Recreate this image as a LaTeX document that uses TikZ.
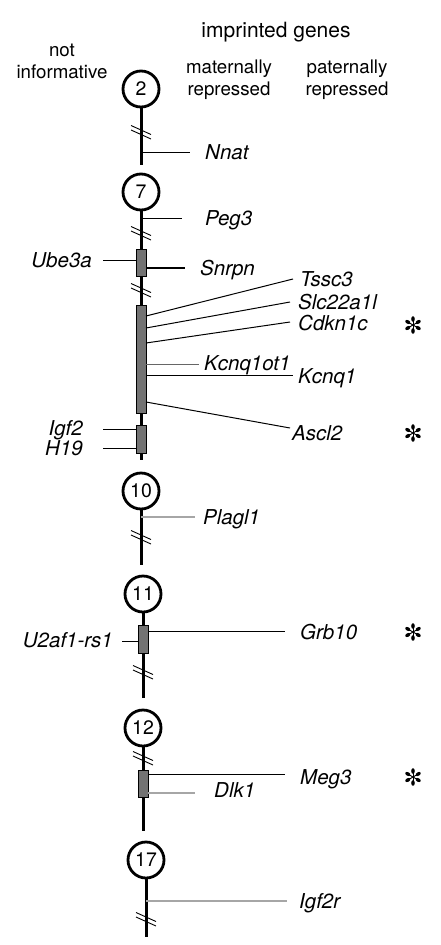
\documentclass[tikz,border=0pt]{standalone}
\usepackage{fontspec}
\setmainfont{TeX Gyre Heros}
\begin{document}
\begin{tikzpicture}[x=1pt,y=-1pt,
  chrom/.style={line width=3pt},
  cen/.style={circle,draw,line width=2.8pt,minimum size=36pt,inner sep=0pt,fill=white,font=\fontsize{19.5}{19.5}\selectfont},
  blk/.style={draw,line width=0.8pt,fill={rgb,255:red,115;green,115;blue,115},minimum width=10pt,inner sep=0pt},
  gl/.style={line width=1pt},
  ggl/.style={line width=1.1pt,color=gray!70},
  gene/.style={font=\fontsize{20.5}{20.5}\selectfont\itshape,inner sep=0pt},
  hdr/.style={font=\fontsize{18.7}{22}\selectfont,align=center,inner sep=0pt},
  brk/.pic={\draw[line width=0.9pt] (-10,-6.5) -- (10,2.5); \draw[line width=0.9pt] (-10,-2) -- (10,7);},
  astk/.pic={\foreach \a in {30,90,150,210,270,330}{\draw[line width=0.9pt] (0,0) -- (\a:6.5); \fill[rotate=\a] (6,0) ellipse (2.8pt and 1.8pt);}}
]
\useasboundingbox (0,0) rectangle (440,945);

% headers
\node[hdr,font=\fontsize{21}{21}\selectfont] (hi) at (276,32) {imprinted genes};
\node[hdr] (hn) at (62,61) {not\\informative};
\node[hdr] (hm) at (229,80) {maternally\\repressed};
\node[hdr] (hp) at (347,80) {paternally\\repressed};

% ---------- chromosome 2
\node[cen] (c2) at (141,89) {2};
\coordinate (e2) at (141,165);
\draw[chrom] (c2.south) -- (e2);
\pic at (141,132) {brk};
\coordinate (nnA) at (141,152); \coordinate (nnB) at (190,152);
\draw[gl] (nnA) -- (nnB);
\node[gene,anchor=base west] (nnat) at (205,159.5) {Nnat};

% ---------- chromosome 7
\node[cen] (c7) at (141,192) {7};
\coordinate (e7) at (141,460);
\draw[chrom] (c7.south) -- (e7);
\pic at (141,233) {brk};
\pic at (141,290) {brk};
\node[blk,minimum height=27pt] (b1) at (141,262.5) {};
\node[blk,minimum height=108pt] (b2) at (141,359) {};
\node[blk,minimum height=28pt] (b3) at (141,439) {};

\coordinate (pgA) at (141,218); \coordinate (pgB) at (182,218);
\draw[gl] (pgA) -- (pgB);
\node[gene,anchor=base west] (peg3) at (205,225.5) {Peg3};

\coordinate (ubB) at (103,260);
\draw[gl] (b1.west |- ubB) -- (ubB);
\node[gene,anchor=base east] (ube3a) at (92,267.5) {Ube3a};

\coordinate (snB) at (185,268);
\draw[gl,line width=1.6pt] (b1.east |- snB) -- (snB);
\node[gene,anchor=base west] (snrpn) at (200,275.5) {Snrpn};

\coordinate (tsA) at (146,316); \coordinate (tsB) at (293,279);
\draw[gl] (tsA) -- (tsB);
\node[gene,anchor=base west] (tssc3) at (300,286.5) {Tssc3};

\coordinate (slA) at (146,328); \coordinate (slB) at (290,302);
\draw[gl] (slA) -- (slB);
\node[gene,anchor=base west] (slc) at (298,309.5) {Slc22a1l};

\coordinate (cdA) at (146,343); \coordinate (cdB) at (290,322);
\draw[gl] (cdA) -- (cdB);
\node[gene,anchor=base west] (cdkn) at (298,330.5) {Cdkn1c};
\pic at (413,325) {astk};

\coordinate (koA) at (146,364); \coordinate (koB) at (199,364);
\draw[gl,color=gray!80!black] (koA) -- (koB);
\node[gene,anchor=base west] (kcnqot) at (204,370.5) {Kcnq1ot1};

\coordinate (kqA) at (146,375); \coordinate (kqB) at (293,375);
\draw[gl] (kqA) -- (kqB);
\node[gene,anchor=base west] (kcnq) at (298,383.5) {Kcnq1};

\coordinate (asA) at (146,402); \coordinate (asB) at (290,428);
\draw[gl] (asA) -- (asB);
\node[gene,anchor=base west] (ascl) at (292,440) {Ascl2};
\pic at (413,433) {astk};

\coordinate (igB) at (103,429);
\draw[gl] (b3.west |- igB) -- (igB);
\node[gene,anchor=base east] (igf2) at (83,435.5) {Igf2};

\coordinate (hB) at (103,448);
\draw[gl] (b3.west |- hB) -- (hB);
\node[gene,anchor=base east] (h19) at (83,455) {H19};

% ---------- chromosome 10
\node[cen] (c10) at (141,491) {10};
\coordinate (e10) at (141,565);
\draw[chrom] (c10.south) -- (e10);
\pic at (141,537) {brk};
\coordinate (plA) at (141,517); \coordinate (plB) at (195,517);
\draw[ggl] (plA) -- (plB);
\node[gene,anchor=base west] (plagl) at (203,524.5) {Plagl1};

% ---------- chromosome 11
\node[cen] (c11) at (143,594) {11};
\coordinate (e11) at (143,698);
\draw[chrom] (c11.south) -- (e11);
\pic at (143,672) {brk};
\node[blk,minimum height=28pt] (b4) at (143,639) {};
\coordinate (grB) at (285,631);
\draw[gl] (b4.east |- grB) -- (grB);
\node[gene,anchor=base west] (grb) at (300,639) {Grb10};
\pic at (413,632) {astk};
\coordinate (uB) at (122,641);
\draw[gl] (b4.west |- uB) -- (uB);
\node[gene,anchor=base east] (u2af) at (113,647.5) {U2af1-rs1};

% ---------- chromosome 12
\node[cen] (c12) at (143,728) {12};
\coordinate (e12) at (143,831);
\draw[chrom] (c12.south) -- (e12);
\pic at (143,758) {brk};
\node[blk,minimum height=27pt] (b5) at (143,783.5) {};
\coordinate (mgB) at (285,774);
\draw[gl] (b5.east |- mgB) -- (mgB);
\node[gene,anchor=base west] (meg) at (300,784.5) {Meg3};
\pic at (413,777) {astk};
\coordinate (dkB) at (195,793);
\draw[ggl] (b5.east |- dkB) -- (dkB);
\node[gene,anchor=base west] (dlk) at (214,797.5) {Dlk1};

% ---------- chromosome 17
\node[cen] (c17) at (146,860) {17};
\coordinate (e17) at (146,937);
\draw[chrom] (c17.south) -- (e17);
\pic at (146,919) {brk};
\coordinate (i2A) at (146,901); \coordinate (i2B) at (287,901);
\draw[ggl] (i2A) -- (i2B);
\node[gene,anchor=base west] (igf2r) at (299,908.5) {Igf2r};
\end{tikzpicture}
\end{document}
